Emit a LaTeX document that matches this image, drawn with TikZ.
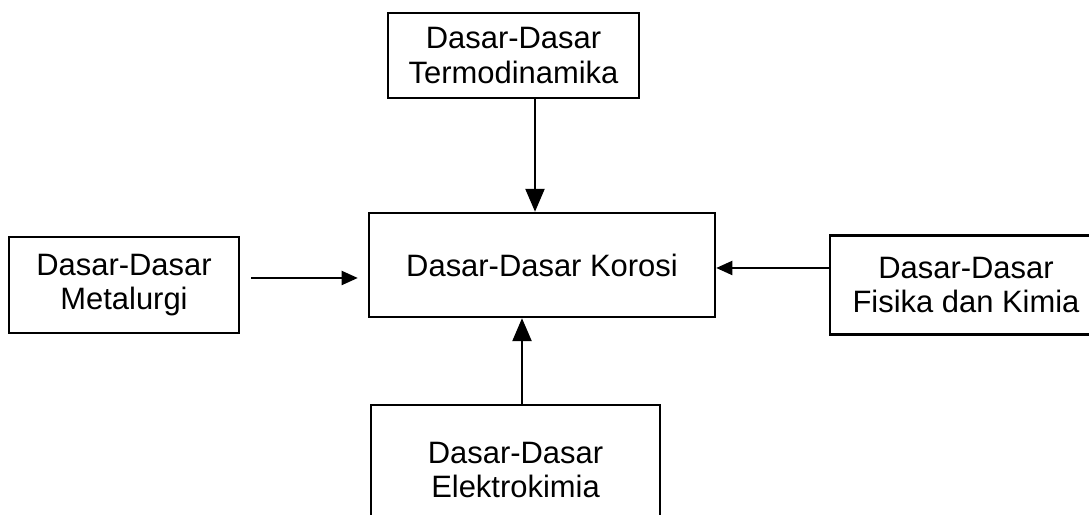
\documentclass[tikz,border=0pt]{standalone}
\usepackage{fontspec}
\setmainfont{Liberation Sans}
\usetikzlibrary{calc,arrows.meta}

\tikzset{
	kotak/.style={draw, line width=0.7pt, align=center, inner sep=0pt,
		font=\fontsize{8.8}{9.7}\selectfont},
	panahbesar/.style={line width=0.6pt, -{Triangle[length=6.5pt,width=5.4pt]}},
	panahkecil/.style={line width=0.6pt, -{Triangle[length=4.6pt,width=4pt]}}
}

\begin{document}
\begin{tikzpicture}
		\useasboundingbox (0, 0) rectangle (10.89, 5.15);
		\clip (0, 0) rectangle (10.89, 5.15);

		\node [kotak, minimum width=2.51cm, minimum height=0.85cm] (termo) at (5.135, 4.595) {Dasar-Dasar\\Termodinamika};
		\node [kotak, minimum width=3.46cm, minimum height=1.04cm] (korosi) at (5.42, 2.50) {Dasar-Dasar Korosi};
		\node [kotak, minimum width=2.30cm, minimum height=0.96cm] (metal) at (1.24, 2.30) {Dasar-Dasar\\Metalurgi};
		\node [kotak, minimum width=2.72cm, minimum height=0.99cm] (fisika) at (9.66, 2.30) {Dasar-Dasar\\Fisika dan Kimia};
		\node [kotak, minimum width=2.89cm, minimum height=1.30cm] (elektro) at (5.155, 0.45) {Dasar-Dasar\\Elektrokimia};

		\coordinate (atas) at (5.35, 0);
		\coordinate (bawah) at (5.22, 0);
		\coordinate (kiri) at (0, 2.37);
		\coordinate (kanan) at (0, 2.47);

		\draw [panahbesar] (termo.south -| atas) -- (korosi.north -| atas);
		\draw [panahbesar] (elektro.north -| bawah) -- (korosi.south -| bawah);
		\draw [panahkecil, shorten <=0.11cm, shorten >=0.10cm] (metal.east |- kiri) -- (korosi.west |- kiri);
		\draw [panahkecil] (fisika.west |- kanan) -- (korosi.east |- kanan);
	\end{tikzpicture}
\end{document}
